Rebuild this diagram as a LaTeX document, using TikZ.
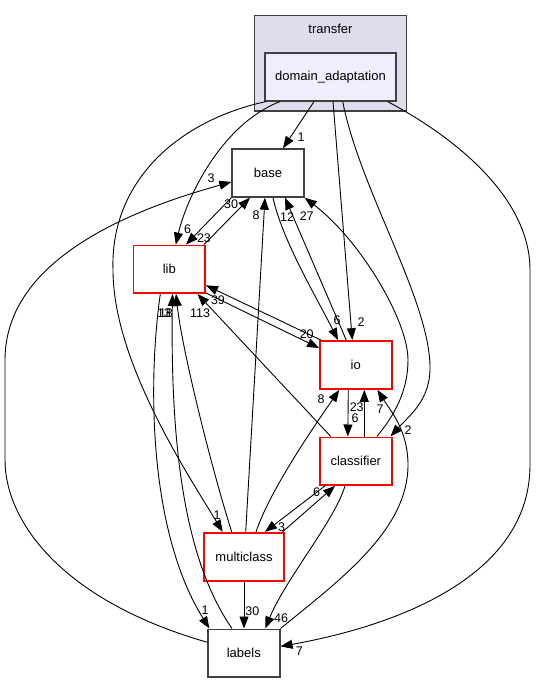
\documentclass[tikz,border=0pt]{standalone}
\usepackage{fontspec}
\setmainfont{Liberation Sans}
\usetikzlibrary{arrows.meta,calc}
\definecolor{clfill}{HTML}{DDDDEE}
\definecolor{dafill}{HTML}{EEEEFF}
\definecolor{gborder}{HTML}{404040}
\definecolor{rborder}{HTML}{FF0000}
\tikzset{
  dirbox/.style={draw=gborder, line width=1.7pt, fill=white, minimum width=71.7pt, minimum height=47.7pt, inner sep=0pt, font=\fontsize{13}{15}\selectfont},
  redbox/.style={dirbox, draw=rborder},
  clusterbox/.style={draw=gborder, line width=1.6pt, fill=clfill, inner sep=0pt},
  dep/.style={draw=black, line width=0.9pt, -{Triangle[length=12pt,width=9pt]}},
  num/.style={font=\fontsize{12.5}{14}\selectfont, inner sep=0pt},
}
\begin{document}
\begin{tikzpicture}[x=1pt,y=-1pt]
\useasboundingbox (0,0) rectangle (536,683);
% cluster
\node[clusterbox, minimum width=152pt, minimum height=95.5pt] (transfer) at (330.5,63.25) {};
\node[font=\fontsize{13}{15}\selectfont, inner sep=0pt] (transfertitle) at (330.5,29) {transfer};
% nodes
\node[dirbox, fill=dafill, minimum width=131pt, minimum height=48pt] (DA) at (330.5,76.7) {domain\_adaptation};
\node[dirbox] (base) at (268,173) {base};
\node[redbox, minimum width=71.7pt, minimum height=47.7pt] (lib) at (169.3,269.3) {lib};
\node[redbox, minimum height=48pt] (io) at (355.8,365) {io};
\node[redbox] (classifier) at (355.8,461.2) {classifier};
\node[redbox, minimum width=80pt, minimum height=48pt] (multiclass) at (244,556.7) {multiclass};
\node[dirbox] (labels) at (243.8,653.2) {labels};
% edges
\draw[dep] ($(DA.south)+(-16.5,0)$) -- ($(base.north)+(15,0)$);
\draw[dep] ($(DA.south)+(-50.5,0)$) .. controls (220,125) and (186,200) .. ($(lib.north)+(6.5,0)$);
\draw[dep] ($(DA.south west)+(2,0)$) .. controls (180,120) and (110,180) .. (113,270) .. controls (113,360) and (185,470) .. ($(multiclass.north)+(-21.3,0)$);
\draw[dep] ($(DA.south)+(2.5,0)$) -- ($(io.north)+(-3.5,0)$);
\draw[dep] ($(DA.south)+(12.2,0)$) .. controls (360,190) and (430,300) .. (430,368) .. controls (430,400) and (410,415) .. ($(classifier.north east)+(-2,0)$);
\draw[dep] ($(DA.south east)+(-9.3,0)$) .. controls (460,140) and (530,200) .. (530,270) -- (530,465) .. controls (530,575) and (400,625) .. ($(labels.east)+(0,-6.8)$);
\draw[dep] (base.south west) -- ($(lib.north)+(16.7,0)$);
\draw[dep] ($(lib.north east)+(-2,0)$) -- ($(base.south)+(-18,0)$);
\draw[dep] ($(base.south)+(5,0)$) .. controls (282,240) and (318,300) .. ($(io.north)+(-17.8,0)$);
\draw[dep] ($(io.north)+(-9.5,0)$) -- ($(base.south)+(17,0)$);
\draw[dep] ($(classifier.north)+(21,0)$) .. controls (395,415) and (408,390) .. (408,360) .. controls (408,320) and (360,240) .. (base.south east);
\draw[dep] ($(multiclass.north)+(1.7,0)$) -- ($(base.south)+(-3,0)$);
\draw[dep] ($(io.north west)+(2,0)$) -- ($(lib.east)+(0,16)$);
\draw[dep] ($(lib.south east)+(0,-1)$) -- ($(io.west)+(0,-17)$);
\draw[dep] ($(classifier.north west)+(11.7,0)$) -- ($(lib.south east)+(-8.5,0)$);
\draw[dep] ($(lib.south)+(-9,0)$) .. controls (148,380) and (148,530) .. ($(labels.north west)+(2.3,0)$);
\draw[dep] ($(labels.north)+(-11.8,0)$) .. controls (188,565) and (170,460) .. ($(lib.south)+(3.2,0)$);
\draw[dep] ($(multiclass.north)+(-12.3,0)$) .. controls (212,470) and (182,350) .. ($(lib.south)+(6.7,0)$);
\draw[dep] ($(labels.west)+(0,-11)$) .. controls (60,600) and (5,520) .. (5,460) -- (5,360) .. controls (5,260) and (130,210) .. ($(base.west)+(0,9)$);
\draw[dep] ($(io.south)+(-7.5,0)$) -- ($(classifier.north)+(-8,0)$);
\draw[dep] ($(classifier.north)+(8.5,0)$) -- ($(io.south)+(8.5,0)$);
\draw[dep] (labels.north east) .. controls (340,580) and (408,530) .. (408,465) .. controls (408,430) and (390,410) .. ($(io.south east)+(-15,0)$);
\draw[dep] ($(classifier.south)+(-10.8,0)$) .. controls (335,520) and (285,580) .. ($(labels.north)+(21.5,0)$);
\draw[dep] (multiclass.south) -- (multiclass.south |- labels.north);
\draw[dep] ($(multiclass.north east)+(-2.3,0)$) -- ($(classifier.south)+(-20.8,0)$);
\draw[dep] ($(classifier.south)+(-30.8,0)$) -- ($(multiclass.north)+(21,0)$);
\draw[dep] ($(multiclass.north)+(12,0)$) .. controls (270,490) and (315,425) .. ($(io.south)+(-16.5,0)$);
% labels
\node[num] (n1) at (301,137) {1};
\node[num] (n2) at (211,178) {3};
\node[num] (n3) at (231,204) {30};
\node[num] (n4) at (256,215) {8};
\node[num] (n5) at (287,217) {12};
\node[num] (n6) at (306.7,216) {27};
\node[num] (n7) at (187.7,229) {6};
\node[num] (n8) at (204,238) {23};
\node[num] (n9) at (218,300) {39};
\node[num] (n10) at (164,313) {13};
\node[num] (n11) at (166,313) {18};
\node[num] (n12) at (200,313) {113};
\node[num] (n13) at (306.7,334) {20};
\node[num] (n14) at (337,320) {6};
\node[num] (n15) at (361,322) {2};
\node[num] (n16) at (321,399) {8};
\node[num] (n17) at (356.7,407) {23};
\node[num] (n18) at (355,418.5) {6};
\node[num] (n19) at (380,409) {7};
\node[num] (n20) at (408,430) {2};
\node[num] (n21) at (316.7,492) {6};
\node[num] (n22) at (281.7,527) {3};
\node[num] (n23) at (217,515) {1};
\node[num] (n24) at (205,610) {1};
\node[num] (n25) at (252.3,611) {30};
\node[num] (n26) at (281,618) {46};
\node[num] (n27) at (299.3,651) {7};
\end{tikzpicture}
\end{document}
